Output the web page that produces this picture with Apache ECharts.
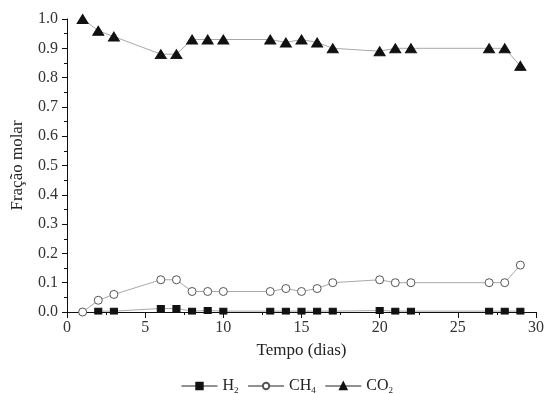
<!DOCTYPE html>
<html>
<head>
<meta charset="utf-8">
<script src="https://cdn.jsdelivr.net/npm/echarts@6/dist/echarts.min.js"></script>
<style>
  html, body { margin: 0; padding: 0; background: #fff; }
  #chart { width: 547px; height: 394px; }
</style>
</head>
<body>
<div id="chart"></div>
<script>
// dias de amostragem
var dias = [1, 2, 3, 6, 7, 8, 9, 10, 13, 14, 15, 16, 17, 20, 21, 22, 27, 28, 29];
// fração molar de cada gás
var h2  = [null, 0.003, 0.003, 0.012, 0.012, 0.003, 0.005, 0.003, 0.003, 0.003, 0.003, 0.003, 0.003, 0.005, 0.003, 0.003, 0.003, 0.003, 0.003];
var ch4 = [0.00, 0.04, 0.06, 0.11, 0.11, 0.07, 0.07, 0.07, 0.07, 0.08, 0.07, 0.08, 0.10, 0.11, 0.10, 0.10, 0.10, 0.10, 0.16];
var co2 = [1.00, 0.96, 0.94, 0.88, 0.88, 0.93, 0.93, 0.93, 0.93, 0.92, 0.93, 0.92, 0.90, 0.89, 0.90, 0.90, 0.90, 0.90, 0.84];

var nomes = ['H2', 'CH4', 'CO2'];
var legendas = { H2: ['H', '2'], CH4: ['CH', '4'], CO2: ['CO', '2'] };

function pares(vals) {
    return dias.map(function (d, k) { return [d, vals[k]]; });
}

var fonte = '"Liberation Serif", "Times New Roman", serif';
var chart = echarts.init(document.getElementById('chart'));

function serie(nome, vals, simbolo, tam, corSimbolo, borda) {
    return {
        name: nome,
        type: 'line',
        data: pares(vals),
        symbol: simbolo,
        symbolSize: tam,
        showAllSymbol: true,
        lineStyle: { color: '#a8a8a8', width: 1 },
        itemStyle: { color: corSimbolo, borderColor: borda, borderWidth: 1 },
        emphasis: { disabled: true },
        z: 3
    };
}

chart.setOption({
    animation: false,
    backgroundColor: '#fff',
    grid: { left: 67, right: 8, top: 19, bottom: 82 },
    legend: {
        left: 176,
        top: 373,
        itemWidth: 36,
        itemHeight: 8,
        itemGap: 9,
        data: nomes,
        lineStyle: { color: '#222', width: 1 },
        formatter: function (n) {
            var p = legendas[n];
            return '{b|' + p[0] + '}{s|' + p[1] + '}';
        },
        textStyle: {
            rich: {
                b: { fontFamily: fonte, fontSize: 16, color: '#222', lineHeight: 18 },
                s: { fontFamily: fonte, fontSize: 9, color: '#222', verticalAlign: 'bottom', padding: [9, 0, 0, 0] }
            }
        }
    },
    xAxis: {
        type: 'value',
        min: 0,
        max: 30,
        interval: 5,
        name: 'Tempo (dias)',
        nameLocation: 'middle',
        nameGap: 30,
        nameTextStyle: { fontFamily: fonte, fontSize: 17, color: '#222' },
        axisLine: { lineStyle: { color: '#111', width: 1 } },
        axisTick: { length: 6, lineStyle: { color: '#111' } },
        minorTick: { show: true, splitNumber: 2, length: 3, lineStyle: { color: '#111' } },
        axisLabel: { fontFamily: fonte, fontSize: 16, color: '#333', margin: 8 },
        splitLine: { show: false }
    },
    yAxis: {
        type: 'value',
        min: 0,
        max: 1,
        interval: 0.1,
        name: 'Fração molar',
        nameLocation: 'middle',
        nameGap: 41,
        nameTextStyle: { fontFamily: fonte, fontSize: 17, color: '#222' },
        axisLine: { show: true, lineStyle: { color: '#111', width: 1 } },
        axisTick: { show: true, length: 5, lineStyle: { color: '#111' } },
        minorTick: { show: true, splitNumber: 2, length: 3, lineStyle: { color: '#111' } },
        axisLabel: {
            fontFamily: fonte, fontSize: 16, color: '#333', margin: 9,
            formatter: function (v) { return v.toFixed(1); }
        },
        splitLine: { show: false }
    },
    series: [
        serie('H2', h2, 'rect', [7, 6], '#111', '#111'),
        serie('CH4', ch4, 'circle', 8, '#fff', '#555'),
        serie('CO2', co2, 'triangle', [11, 9], '#111', '#111')
    ]
});
</script>
</body>
</html>
